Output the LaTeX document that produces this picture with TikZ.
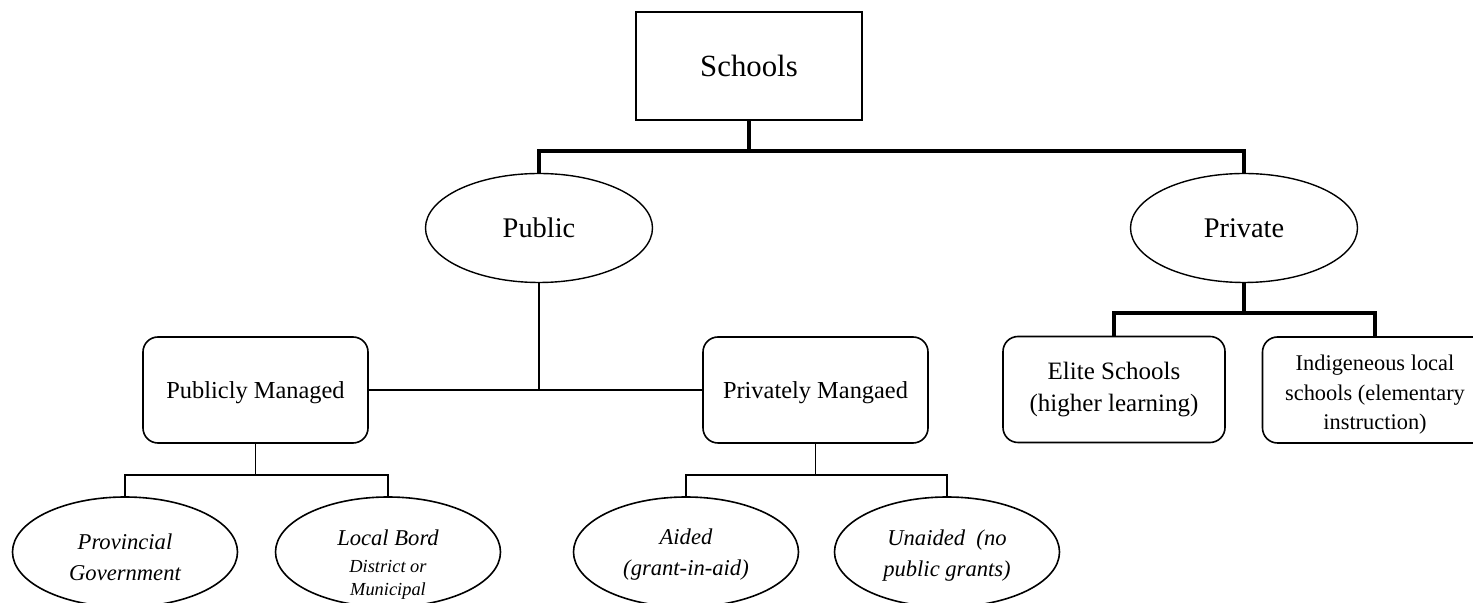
\documentclass[tikz,border=0pt]{standalone}
\usepackage{fontspec}
\setmainfont{Liberation Serif}
\usetikzlibrary{shapes}
\pgfdeclarelayer{edgelayer}
\pgfdeclarelayer{nodelayer}
\pgfsetlayers{edgelayer,nodelayer,main}
\tikzstyle{none}=[inner sep=0pt]
\tikzstyle{rootbox}=[rectangle,draw,line width=0.6pt,minimum width=113pt,minimum height=54pt,font=\fontsize{15.4}{18}\selectfont]
\tikzstyle{oval}=[ellipse,draw,line width=0.7pt,inner sep=0pt,minimum width=113.5pt,minimum height=54.5pt,font=\fontsize{14.2}{17}\selectfont]
\tikzstyle{rbox}=[rectangle,draw,rounded corners=7.5pt,line width=0.8pt,minimum width=112.5pt,minimum height=53pt,align=center]
\tikzstyle{leaf}=[ellipse,draw,line width=0.8pt,inner sep=0pt,minimum width=112.5pt,minimum height=55pt,align=center,font=\fontsize{11.3}{15.5}\selectfont\itshape]
\tikzstyle{trunk}=[line width=1.7pt]
\tikzstyle{mid}=[line width=1.4pt]
\tikzstyle{twig}=[line width=0.7pt]

\begin{document}
\begin{tikzpicture}[x=0.5pt,y=0.5pt]
	\useasboundingbox (0,0) rectangle (1473,-603);
	\begin{pgfonlayer}{nodelayer}
		\node [style=rootbox] (0) at (749, -66) {Schools};
		\node [style=oval] (1) at (539, -228) {Public};
		\node [style=oval] (2) at (1244, -228) {Private};
		\node [style=rbox, font=\fontsize{12.2}{15}\selectfont] (3) at (255.5, -390) {\rule{0pt}{11.3pt}Publicly Managed};
		\node [style=rbox, font=\fontsize{12.2}{15}\selectfont] (4) at (815.5, -390) {\rule{0pt}{11.3pt}Privately Mangaed};
		\node [style=leaf] (5) at (125, -552) {\rule{0pt}{12.8pt}Provincial\\Government};
		\node [style=leaf, inner ysep=-10pt] (6) at (388, -552) {\rule{0pt}{20.8pt}Local Bord\\[-2pt]{\fontsize{9.2}{11.5}\selectfont District or}\\[-4pt]{\fontsize{9.2}{11.5}\selectfont Municipal}};
		\node [style=leaf] (7) at (686, -552) {\rule{0pt}{10.8pt}Aided\\(grant-in-aid)};
		\node [style=leaf] (8) at (947, -552) {\rule{0pt}{11.8pt}Unaided\ \ (no\\public grants)};
		\node [style=rbox, font=\fontsize{12.5}{16}\selectfont, minimum width=111pt] (9) at (1114, -389.5) {Elite Schools\\(higher learning)};
		\node [style=rbox, font=\fontsize{11.2}{14.7}\selectfont] (10) at (1375, -390) {\rule{0pt}{12.6pt}Indigeneous local\\schools (elementary\\instruction)};
		\node [style=none] (11) at (749, -151) {};
		\node [style=none] (12) at (539, -151) {};
		\node [style=none] (13) at (1244, -151) {};
		\node [style=none] (14) at (539, -390) {};
		\node [style=none] (15) at (255.5, -475) {};
		\node [style=none] (16) at (125, -475) {};
		\node [style=none] (17) at (388, -475) {};
		\node [style=none] (18) at (815.5, -475) {};
		\node [style=none] (19) at (686, -475) {};
		\node [style=none] (20) at (947, -475) {};
		\node [style=none] (21) at (1244, -313) {};
		\node [style=none] (22) at (1114, -313) {};
		\node [style=none] (23) at (1375, -313) {};
	\end{pgfonlayer}
	\begin{pgfonlayer}{edgelayer}
		\draw[style=trunk] (0) to (11.center);
		\draw[style=trunk] (1) to (12.center) to (13.center) to (2);
		\draw[style=mid] (1) to (14.center);
		\draw[style=mid] (3) to (4);
		\draw[style=twig] (3) to (15.center);
		\draw[style=twig] (5) to (16.center) to (17.center) to (6);
		\draw[style=twig] (4) to (18.center);
		\draw[style=twig] (7) to (19.center) to (20.center) to (8);
		\draw[style=trunk] (2) to (21.center);
		\draw[style=trunk] (9) to (22.center) to (23.center) to (10);
	\end{pgfonlayer}
\end{tikzpicture}
\end{document}
